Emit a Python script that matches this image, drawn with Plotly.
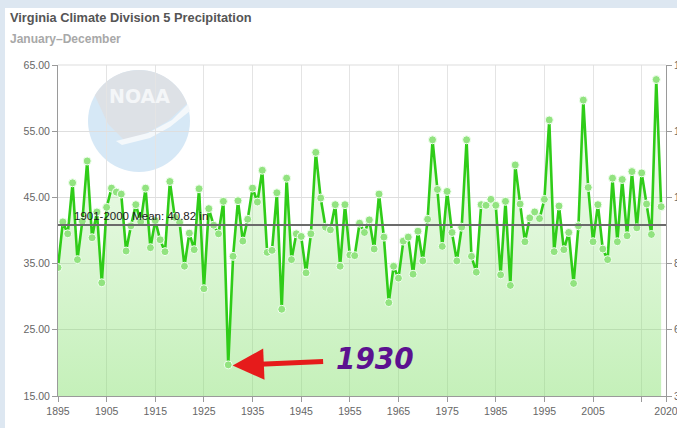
import math
import plotly.graph_objects as go

# ---------------- data ----------------
years = list(range(1895, 2020))
precip = [
    34.4, 41.3, 39.5, 47.2, 35.6, 41.4, 50.5, 38.9, 42.8, 32.1,   # 1895-1904
    43.5, 46.4, 45.8, 45.5, 36.9, 40.7, 43.9, 41.3, 46.4, 37.4,   # 1905-1914
    41.5, 38.6, 36.8, 47.4, 42.0, 41.2, 34.6, 39.6, 37.1, 46.3,   # 1915-1924
    31.2, 43.3, 40.8, 39.5, 44.4, 19.7, 36.1, 44.5, 38.4, 41.7,   # 1925-1934
    46.4, 44.3, 49.1, 36.7, 37.0, 45.7, 28.1, 47.9, 35.6, 39.5,   # 1935-1944
    39.1, 33.6, 39.5, 51.8, 44.9, 40.5, 40.1, 43.9, 34.6, 43.9,   # 1945-1954
    36.3, 36.2, 41.1, 39.7, 41.6, 37.2, 45.5, 39.0, 29.1, 34.6,   # 1955-1964
    32.8, 38.4, 39.0, 33.4, 39.9, 35.4, 41.7, 53.7, 46.2, 37.6,   # 1965-1974
    45.9, 39.7, 35.4, 40.5, 53.7, 36.1, 33.7, 43.9, 43.8, 44.7,   # 1975-1984
    43.8, 33.3, 44.4, 31.7, 49.9, 44.0, 38.3, 41.9, 42.8, 41.8,   # 1985-1994
    44.7, 56.7, 36.8, 43.7, 37.1, 39.7, 32.0, 40.7, 59.7, 46.5,   # 1995-2004
    38.3, 43.9, 37.2, 35.6, 47.9, 38.3, 47.7, 39.2, 48.9, 40.4,   # 2005-2014
    48.7, 44.0, 39.4, 62.8, 43.6,                                 # 2015-2019
]
mean_value = 40.82
mean_label = "1901-2000 Mean: 40.82 in"
x_tick_vals = [1895, 1905, 1915, 1925, 1935, 1945, 1955, 1965, 1975, 1985, 1995, 2005, 2015, 2020]
x_tick_text = ["1895", "1905", "1915", "1925", "1935", "1945", "1955", "1965", "1975", "1985",
               "1995", "2005", "", "2020"]
y_tick_vals = [15, 25, 35, 45, 55, 65]
mm_tick_vals = [381, 635, 889, 1143, 1397, 1651]
mm_tick_text = ["381.0 mm", "635.0 mm", "889.0 mm", "1143.0 mm", "1397.0 mm", "1651.0 mm"]
title_text = "Virginia Climate Division 5 Precipitation"
subtitle_text = "January\u2013December"
callout_year = 1930
callout_text = "1930"

# ---------------- geometry helpers (pixel -> paper) ----------------
W_FIG, H_FIG = 677, 428
L, R, T, B = 58, 666, 65, 396
PW, PH = R - L, B - T


def px(x):
    return (x - L) / PW


def py(y):
    return (B - y) / PH


def path_from(points):
    s = "M " + " L ".join(f"{px(a):.5f},{py(b):.5f}" for a, b in points) + " Z"
    return s


# NOAA watermark geometry
cx, cy, rad = 139, 121, 51
arc = []
for d in range(150, 19, -5):
    t = math.radians(d)
    arc.append((cx + rad * math.cos(t), cy - rad * math.sin(t)))
gray_dome = arc + [(168, 121), (145, 134), (124, 140), (108, 124)]
gull = [(116, 141), (148, 133), (172, 120), (188, 104), (190, 111), (170, 127), (150, 138), (122, 145)]

fig = go.Figure()

# area + line + markers
fig.add_trace(go.Scatter(
    x=years, y=precip, mode="lines+markers",
    line=dict(color="#2fcc18", width=2.6),
    marker=dict(size=8, color="#92e380", line=dict(color="#f2fff0", width=1)),
    fill="tozeroy",
    fillgradient=dict(type="vertical", start=15, stop=65,
                      colorscale=[[0, "rgba(125,222,100,0.45)"], [1, "rgba(125,222,100,0.04)"]]),
    hoverinfo="x+y", showlegend=False,
))
# phantom trace for the secondary (mm) axis
fig.add_trace(go.Scatter(x=[None], y=[None], yaxis="y2", showlegend=False, hoverinfo="skip"))

shapes = [
    dict(type="rect", xref="paper", yref="paper", x0=px(5), x1=px(W_FIG + 5), y0=py(H_FIG + 5), y1=py(8),
         fillcolor="white", line=dict(width=0), layer="below"),
    dict(type="circle", xref="paper", yref="paper", x0=px(cx - rad), x1=px(cx + rad),
         y0=py(cy + rad), y1=py(cy - rad), fillcolor="#d6e8f6", line=dict(width=0), layer="below"),
    dict(type="path", xref="paper", yref="paper", path=path_from(gray_dome),
         fillcolor="#dde1e6", line=dict(width=0), layer="below"),
    dict(type="path", xref="paper", yref="paper", path=path_from(gull),
         fillcolor="#f4f8fb", line=dict(width=0), layer="below"),
    # top border of plot
    dict(type="line", xref="paper", yref="paper", x0=0, x1=1, y0=1, y1=1,
         line=dict(color="#dddddd", width=1)),
    # mean line
    dict(type="line", xref="paper", yref="y", x0=0, x1=1, y0=mean_value, y1=mean_value,
         line=dict(color="#6b6b6b", width=2)),
]

annotations = [
    dict(text=f"<b>{title_text}</b>", xref="paper", yref="paper", x=px(8), y=py(18),
         xanchor="left", yanchor="middle", showarrow=False,
         font=dict(family="Liberation Sans", size=12.8, color="#555555")),
    dict(text=f"<b>{subtitle_text}</b>", xref="paper", yref="paper", x=px(8), y=py(39),
         xanchor="left", yanchor="middle", showarrow=False,
         font=dict(family="Liberation Sans", size=12, color="#a8a8a8")),
    dict(text="NOAA", xref="paper", yref="paper", x=px(139), y=py(96),
         xanchor="center", yanchor="middle", showarrow=False,
         font=dict(family="DejaVu Sans", size=19, color="#f4f6f8", weight="bold")),
    dict(text=mean_label, xref="paper", yref="y", x=px(72), y=mean_value,
         xanchor="left", yanchor="bottom", yshift=1, showarrow=False,
         font=dict(family="Liberation Sans", size=11.5, color="#1a1a1a")),
    # red arrow
    dict(text="", x=callout_year + 0.9, y=19.6, xref="x", yref="y",
         ax=92, ay=-4, showarrow=True, arrowhead=2, arrowsize=1.25, arrowwidth=5,
         arrowcolor="#e61b1b", standoff=0, startstandoff=0),
    # handwritten label
    dict(text=callout_text, xref="paper", yref="paper", x=px(334), y=py(358),
         xanchor="left", yanchor="middle", showarrow=False,
         font=dict(family="DejaVu Sans Condensed", size=31, color="#5c1190",
                   weight="bold", style="italic")),
]

axis_font = dict(family="Liberation Sans", size=10.5, color="#666666")

fig.update_layout(
    width=W_FIG, height=H_FIG,
    margin=dict(l=L, r=W_FIG - R, t=T, b=H_FIG - B, pad=0, autoexpand=False),
    paper_bgcolor="#dde7f1",
    plot_bgcolor="rgba(0,0,0,0)",
    showlegend=False,
    shapes=shapes,
    annotations=annotations,
    xaxis=dict(
        range=[1895, 2020], tickmode="array", tickvals=x_tick_vals, ticktext=x_tick_text,
        showgrid=True, gridcolor="#e4e4e4", gridwidth=1, zeroline=False,
        showline=True, linecolor="#9a9a9a", linewidth=1, automargin=False,
        ticklabeloverflow="allow",
        ticks="outside", ticklen=5, tickcolor="#9a9a9a", tickfont=axis_font,
    ),
    yaxis=dict(
        range=[15, 65], tickmode="array", tickvals=y_tick_vals, tickformat=".2f", ticksuffix=" in",
        showgrid=True, gridcolor="#dedede", gridwidth=1, zeroline=False,
        showline=True, linecolor="#9a9a9a", linewidth=1, automargin=False,
        ticks="outside", ticklen=5, tickcolor="#9a9a9a", tickfont=axis_font,
    ),
    yaxis2=dict(
        overlaying="y", side="right", anchor="x", range=[381, 1651],
        tickmode="array", tickvals=mm_tick_vals, ticktext=mm_tick_text, automargin=False,
        ticklabeloverflow="allow",
        showgrid=False, zeroline=False, showline=True, linecolor="#9a9a9a", linewidth=1,
        ticks="outside", ticklen=5, tickcolor="#9a9a9a", tickfont=axis_font,
    ),
)

fig.write_html(
    "out.html",
    config={"displayModeBar": False},
    post_script="document.body.style.margin='0';document.body.style.overflow='hidden';",
)
